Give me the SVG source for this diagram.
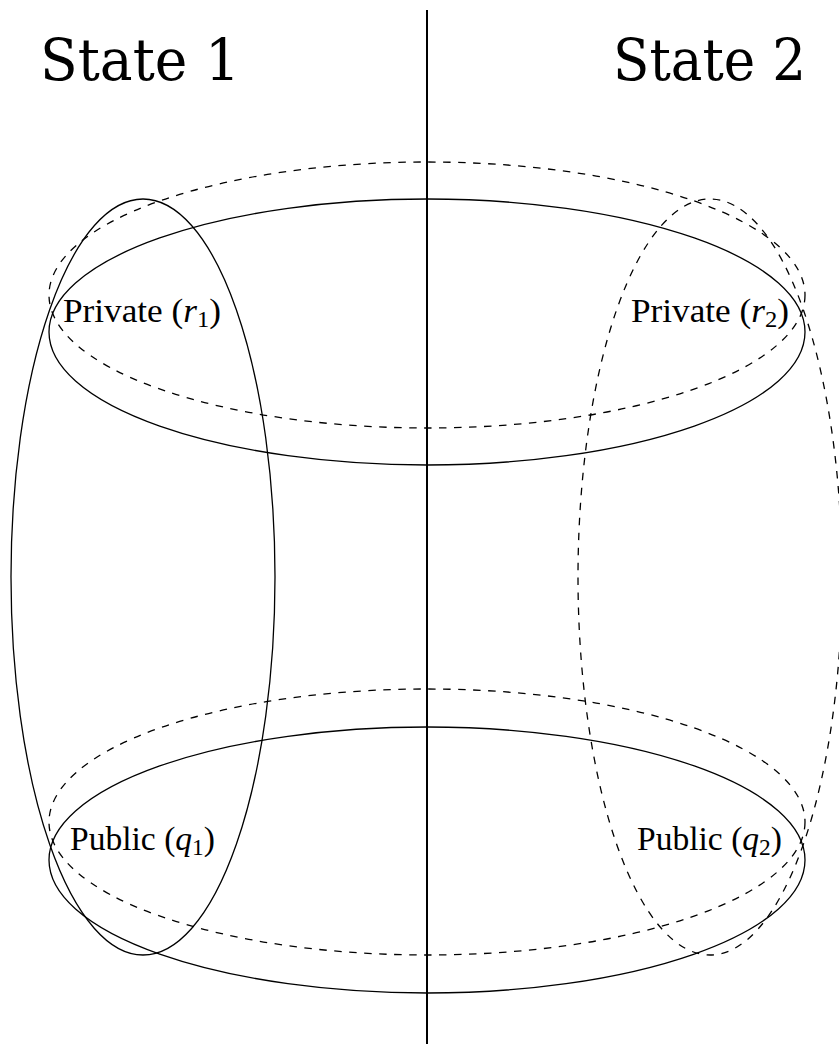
<svg xmlns="http://www.w3.org/2000/svg" width="839" height="1046" viewBox="0 0 839 1046">
<style>
.solid{fill:none;stroke:#000;stroke-width:1.3}
.dash{fill:none;stroke:#000;stroke-width:1.3;stroke-dasharray:7.5 7.5}
.lbl{font-family:"Liberation Serif","Times New Roman",serif;font-size:33px;fill:#000}
.big{font-family:"DejaVu Serif","Liberation Serif",serif;font-size:58px;font-weight:normal}
.it{font-style:italic}
.sub{font-size:23px}
</style>
<rect width="839" height="1046" fill="#fff"/>
<g id="sets">
<g id="private-state2"><ellipse class="dash" cx="427" cy="295" rx="378" ry="133"/></g>
<g id="private-state1"><ellipse class="solid" cx="427" cy="332" rx="378" ry="133"/></g>
<g id="public-state2"><ellipse class="dash" cx="427" cy="822" rx="378" ry="133"/></g>
<g id="public-state1"><ellipse class="solid" cx="427" cy="860" rx="378" ry="133"/></g>
<g id="state1-set"><ellipse class="solid" cx="143" cy="577" rx="132" ry="378"/></g>
<g id="state2-set"><ellipse class="dash" cx="710" cy="577" rx="132" ry="378"/></g>
</g>
<g id="connectors">
<line x1="427" y1="10" x2="427" y2="1044" stroke="#000" stroke-width="2"/>
</g>
<g id="title-state1"><text class="lbl big" x="40" y="80" textLength="200" lengthAdjust="spacingAndGlyphs">State 1</text></g>
<g id="title-state2"><text class="lbl big" x="613" y="80" textLength="193" lengthAdjust="spacingAndGlyphs">State 2</text></g>
<g id="label-r1"><text class="lbl" x="63" y="322" textLength="158" lengthAdjust="spacingAndGlyphs">Private (<tspan class="it">r</tspan><tspan class="sub" dy="5">1</tspan><tspan dy="-5">)</tspan></text></g>
<g id="label-r2"><text class="lbl" x="631" y="322" textLength="158" lengthAdjust="spacingAndGlyphs">Private (<tspan class="it">r</tspan><tspan class="sub" dy="5">2</tspan><tspan dy="-5">)</tspan></text></g>
<g id="label-q1"><text class="lbl" x="70" y="850" textLength="145" lengthAdjust="spacingAndGlyphs">Public (<tspan class="it">q</tspan><tspan class="sub" dy="5">1</tspan><tspan dy="-5">)</tspan></text></g>
<g id="label-q2"><text class="lbl" x="637" y="850" textLength="145" lengthAdjust="spacingAndGlyphs">Public (<tspan class="it">q</tspan><tspan class="sub" dy="5">2</tspan><tspan dy="-5">)</tspan></text></g>
</svg>
